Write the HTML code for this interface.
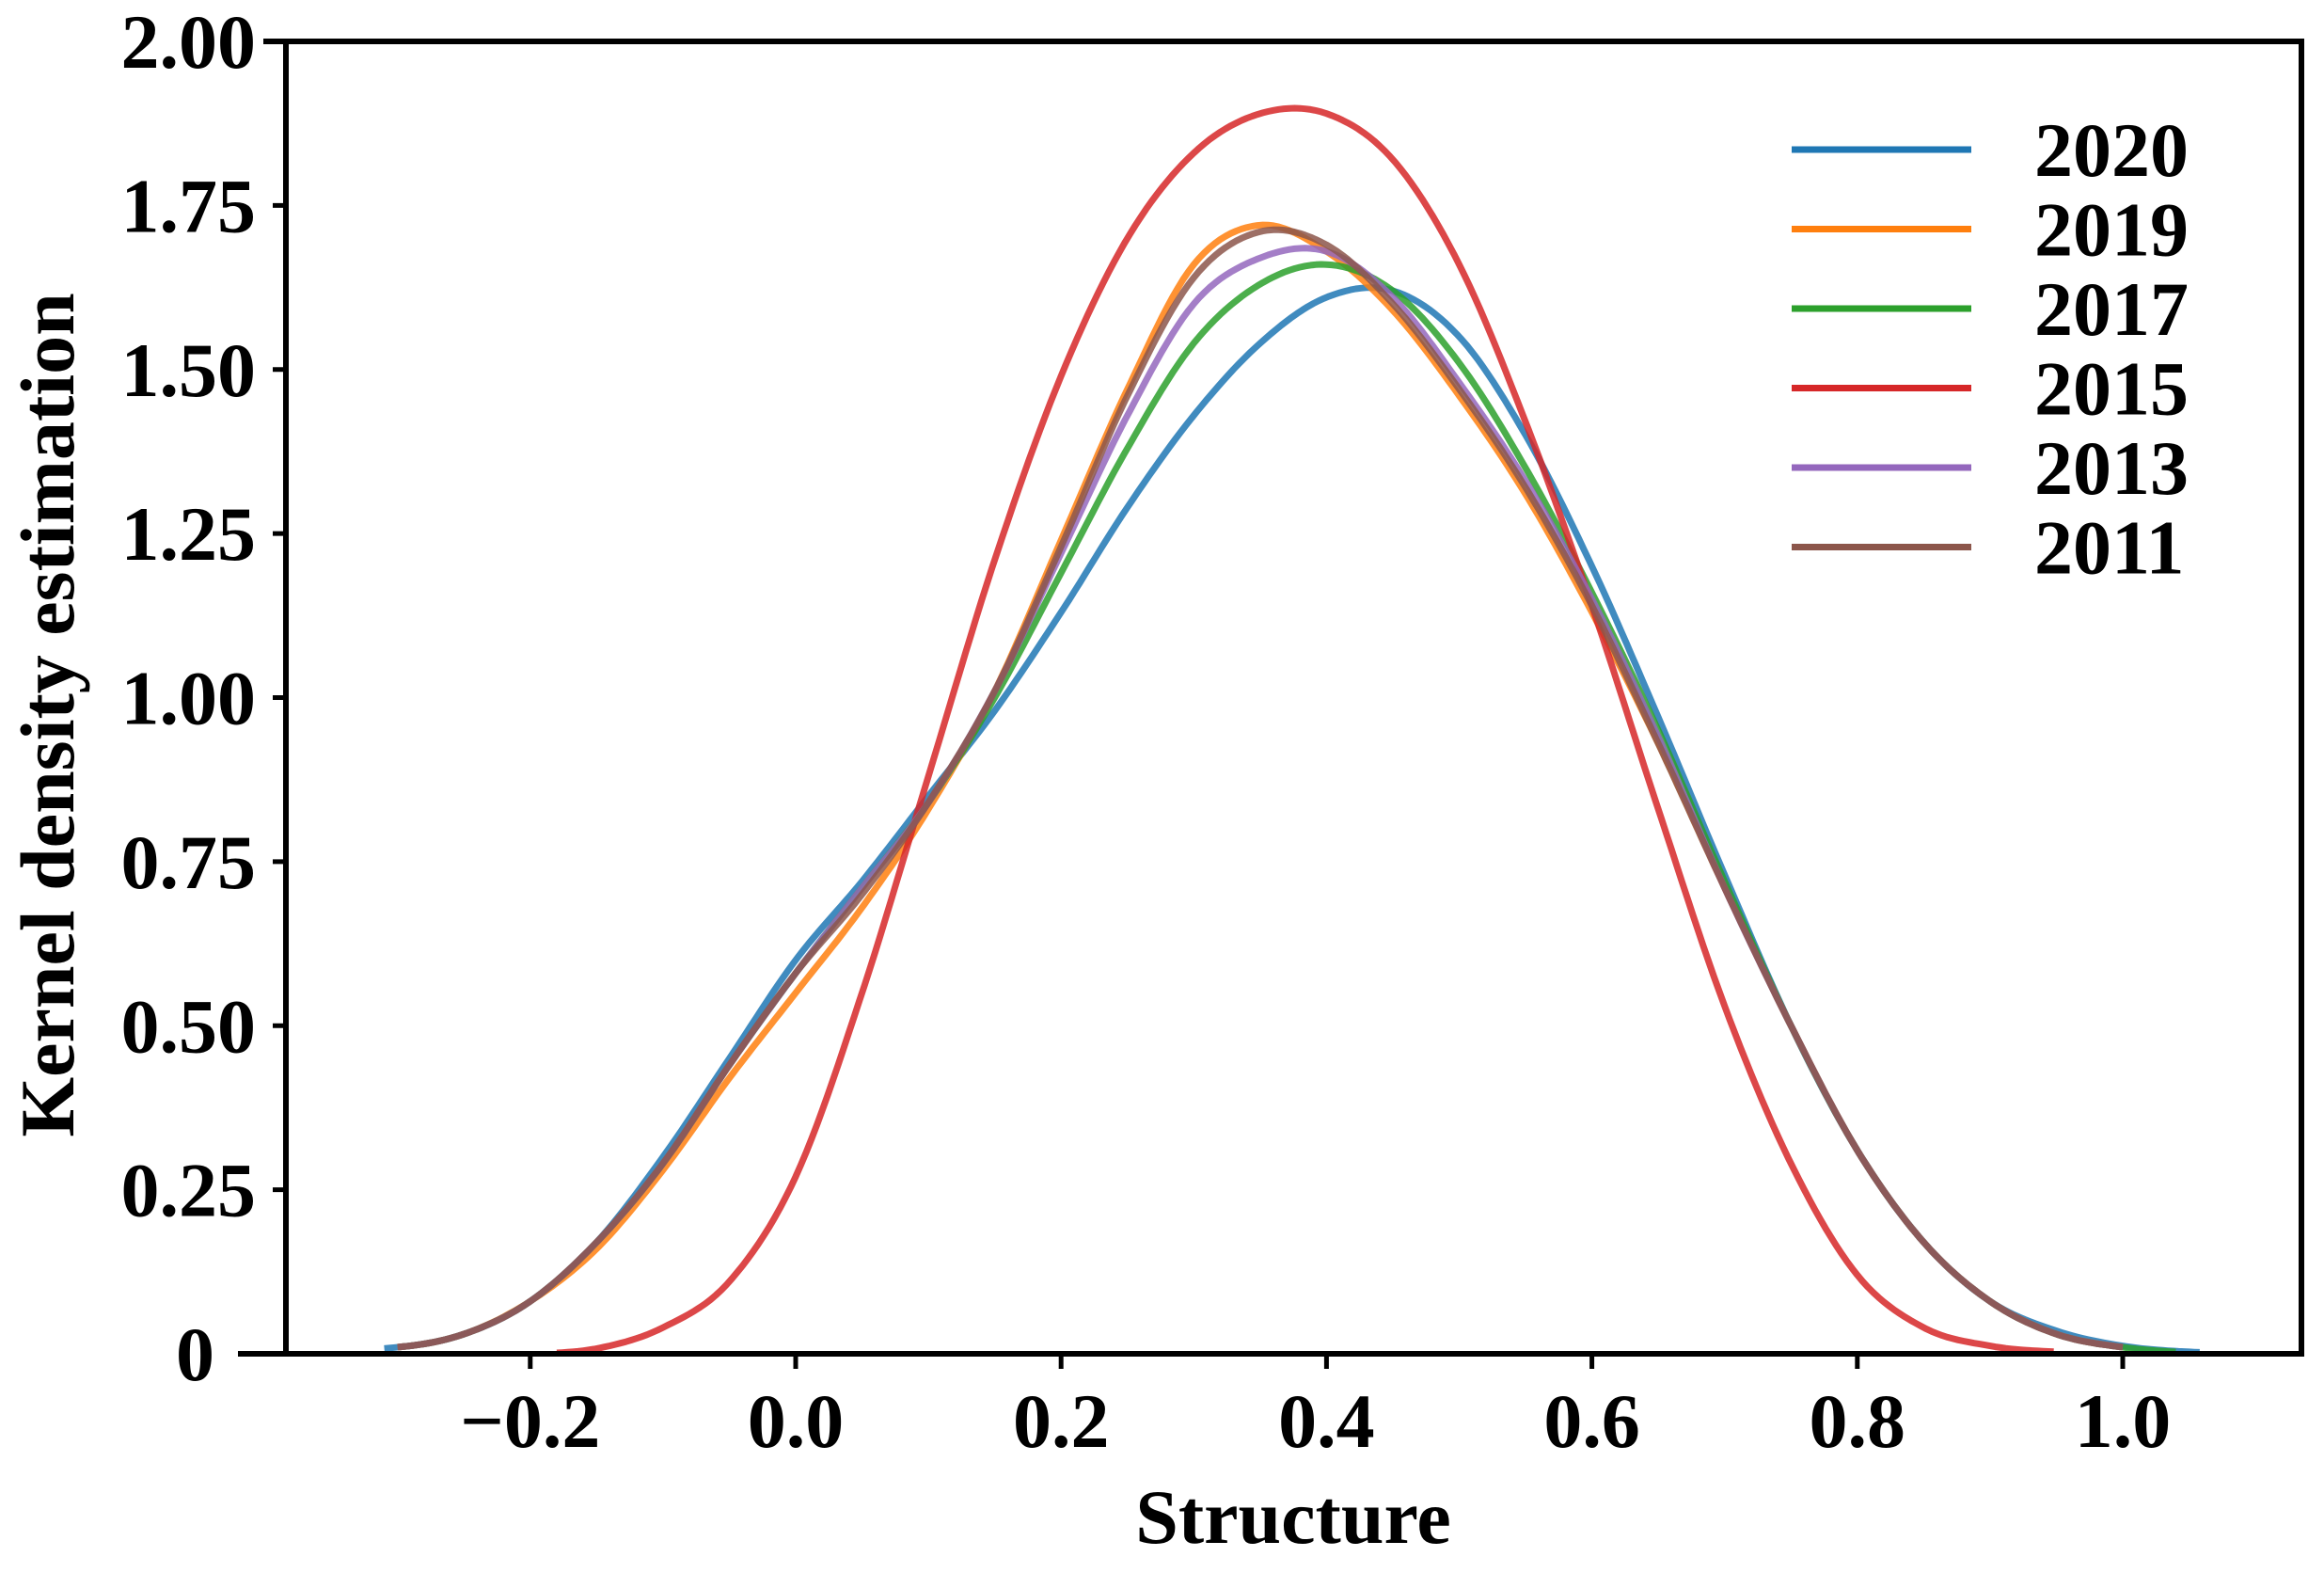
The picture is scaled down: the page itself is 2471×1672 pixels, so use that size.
<!DOCTYPE html>
<html><head><meta charset="utf-8"><style>
html,body{margin:0;padding:0;background:#fff;}
svg{display:block;}
text{font-family:"Liberation Serif",serif;font-weight:bold;fill:#000;}
</style></head><body>
<svg id="chart" width="2471" height="1672" viewBox="0 0 2471 1672" xmlns="http://www.w3.org/2000/svg">
<defs><filter id="blur" x="-20%" y="-200%" width="140%" height="500%"><feGaussianBlur stdDeviation="5"/></filter></defs>
<g id="plot"></g>
</svg>
<script>
const xGrid = [-0.3,-0.25,-0.2,-0.15,-0.1,-0.05,0,0.05,0.1,0.15,0.2,0.25,0.3,0.35,0.4,0.45,0.5,0.55,0.6,0.65,0.7,0.75,0.8,0.85,0.9,0.95,1.0,1.05];
const y2020 = [0.01,0.03,0.08,0.17,0.30,0.45,0.60,0.72,0.85,0.98,1.13,1.29,1.43,1.54,1.61,1.62,1.55,1.40,1.20,0.97,0.73,0.50,0.31,0.17,0.08,0.035,0.012,0.003];
const y2019 = [0.01,0.03,0.08,0.16,0.28,0.42,0.55,0.68,0.83,1.01,1.24,1.47,1.66,1.72,1.68,1.59,1.46,1.31,1.13,0.93,0.71,0.50,0.31,0.17,0.08,0.03,0.01,0.002];
const y2017 = [0.01,0.03,0.08,0.17,0.29,0.44,0.58,0.71,0.84,1.00,1.19,1.38,1.54,1.63,1.66,1.62,1.51,1.35,1.16,0.95,0.72,0.50,0.31,0.17,0.08,0.03,0.01,0.002];
const y2015 = [0,0,0,0.008,0.04,0.11,0.27,0.55,0.88,1.21,1.49,1.70,1.83,1.89,1.89,1.82,1.66,1.42,1.14,0.83,0.53,0.29,0.12,0.04,0.012,0.003,0.001,0];
const y2013 = [0.01,0.03,0.08,0.17,0.29,0.44,0.58,0.71,0.84,1.01,1.22,1.43,1.60,1.67,1.68,1.61,1.48,1.33,1.15,0.94,0.71,0.50,0.31,0.17,0.08,0.03,0.01,0.002];
const y2011 = [0.01,0.03,0.08,0.17,0.29,0.44,0.58,0.70,0.84,1.01,1.23,1.46,1.64,1.71,1.69,1.60,1.47,1.32,1.14,0.93,0.71,0.50,0.31,0.17,0.08,0.03,0.01,0.002];
const seriesNames = ["2020","2019","2017","2015","2013","2011"];
const xTicks = [-0.2,0.0,0.2,0.4,0.6,0.8,1.0];
const xTickLabels = ["\u22120.2","0.0","0.2","0.4","0.6","0.8","1.0"];
const yTicks = [0,0.25,0.5,0.75,1.0,1.25,1.5,1.75,2.0];
const yTickLabels = ["0","0.25","0.50","0.75","1.00","1.25","1.50","1.75","2.00"];

const colors = ["#1f77b4","#ff7f0e","#2ca02c","#d62728","#9467bd","#8c564b"];
const seriesData = [y2020,y2019,y2017,y2015,y2013,y2011];
const starts = [-0.31,-0.3,-0.3,-0.18,-0.3,-0.3];
const ends = [1.06,1.0,1.04,0.95,1.0,1.0];
const L=304,R=2447,T=44,B=1439;
const X0=846, XU=(2257-846)/1.0;
function sx(v){return X0+v*XU;}
function sy(v){return B-(v/2.0)*(B-T);}
const NS="http://www.w3.org/2000/svg";
const svg=document.getElementById('chart');
const g=document.getElementById('plot');
function el(t,a,p){const e=document.createElementNS(NS,t);for(const k in a)e.setAttribute(k,a[k]);(p||svg).appendChild(e);return e;}
function interp(ys,x){
  const h=0.05;let i=Math.floor((x-xGrid[0])/h+1e-9);i=Math.max(0,Math.min(xGrid.length-2,i));
  const t=(x-xGrid[i])/h;const p0=ys[Math.max(0,i-1)],p1=ys[i],p2=ys[i+1],p3=ys[Math.min(ys.length-1,i+2)];
  const v=0.5*((2*p1)+(-p0+p2)*t+(2*p0-5*p1+4*p2-p3)*t*t+(-p0+3*p1-3*p2+p3)*t*t*t);
  return Math.max(0,v);
}
seriesData.forEach((ys,si)=>{
  let d="";
  for(let x=starts[si];x<=ends[si]+1e-9;x+=0.004){d+=(d?"L":"M")+sx(x).toFixed(1)+","+sy(interp(ys,x)).toFixed(1);}
  const p=el('path',{d:d,fill:'none',stroke:colors[si],'stroke-width':7,'stroke-linejoin':'round','stroke-opacity':0.85},g);
  
  
});
const sp=el('rect',{x:L,y:T,width:R-L,height:B-T,fill:'none',stroke:'#000','stroke-width':6});


const ext1=el('line',{x1:280,y1:T,x2:L,y2:T,stroke:'#000','stroke-width':6});


const ext2=el('line',{x1:253,y1:B,x2:L,y2:B,stroke:'#000','stroke-width':6});


yTicks.forEach((v,i)=>{
  const tk=el('line',{x1:L-14,y1:sy(v),x2:L,y2:sy(v),stroke:'#000','stroke-width':5});
  
  
  const t=el('text',{x:i==0?228:272,y:sy(v)+28,'font-size':82,'text-anchor':'end'});
  t.textContent=yTickLabels[i];
  
  
});
xTicks.forEach((v,i)=>{
  const tk=el('line',{x1:sx(v),y1:B,x2:sx(v),y2:B+16,stroke:'#000','stroke-width':5});
  
  
  const t=el('text',{x:sx(v),y:1538,'font-size':82,'text-anchor':'middle'});
  t.textContent=xTickLabels[i];
  
  
});
const xl=el('text',{x:1375,y:1640,'font-size':82,'text-anchor':'middle'});
xl.textContent='Structure';


const yl=el('text',{x:0,y:0,'font-size':82,'text-anchor':'middle',transform:'translate(78,760) rotate(-90)'});
yl.textContent='Kernel density estimation';


seriesNames.forEach((n,i)=>{
  const y=159+i*84.5;
  const sh=el('line',{x1:1912,y1:y+28,x2:2092,y2:y+28,stroke:'#999','stroke-width':14,filter:'url(#blur)','stroke-opacity':0.7});
  
  
  const ln=el('line',{x1:1905,y1:y,x2:2096,y2:y,stroke:colors[i],'stroke-width':7});
  
  
  const t=el('text',{x:2163,y:y+28,'font-size':82});
  t.textContent=n;
  
  
});
</script>
</body></html>
